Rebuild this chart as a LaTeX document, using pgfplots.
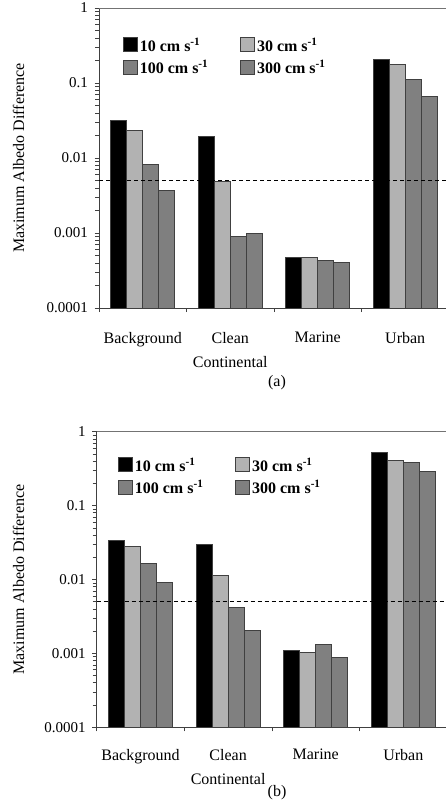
\documentclass[border=0pt]{standalone}
\usepackage{fontspec}
\setmainfont{Liberation Serif}
\usepackage{pgfplots}
\pgfplotsset{compat=1.18}
\definecolor{cA}{HTML}{000000}
\definecolor{cB}{HTML}{B2B2B2}
\definecolor{cC}{HTML}{808080}
\definecolor{cD}{HTML}{7F7F7F}
\definecolor{axc}{HTML}{404040}
\begin{document}
\begin{tikzpicture}
\useasboundingbox (0,0) rectangle (446pt,-812pt);
% ---------- panel (a)
\begin{axis}[
  at={(99pt,-308pt)}, anchor=south west,
  scale only axis, width=347pt, height=300pt,
  xmin=-0.5, xmax=3.466,
  ymode=log, ymin=1e-4, ymax=1, log origin=infty,
  axis x line*=bottom, axis y line*=left,
  axis line style={axc, line width=0.8pt},
  tick align=outside,
  xtick={0,1,2,3},
  xticklabels={Background, Clean\\Continental, Marine, Urban},
  major x tick style={draw=none},
  minor xtick={-0.5,0.5,1.5,2.5},
  minor x tick style={axc, line width=0.8pt},
  xticklabel style={align=center, font=\fontsize{16}{24}\selectfont, yshift=-16pt},
  ytick={1e-4,1e-3,1e-2,1e-1,1},
  yticklabels={0.0001,0.001,0.01,0.1,1},
  minor ytick={2e-4,3e-4,4e-4,5e-4,6e-4,7e-4,8e-4,9e-4,2e-3,3e-3,4e-3,5e-3,6e-3,7e-3,8e-3,9e-3,2e-2,3e-2,4e-2,5e-2,6e-2,7e-2,8e-2,9e-2,2e-1,3e-1,4e-1,5e-1,6e-1,7e-1,8e-1,9e-1},
  major tick length=4.5pt, minor tick length=4pt,
  major y tick style={axc, line width=0.7pt},
  minor y tick style={axc, line width=0.7pt},
  yticklabel style={font=\fontsize{15}{17}\selectfont, xshift=-3pt},
  ylabel={Maximum Albedo Difference},
  ylabel style={font=\fontsize{16}{18}\selectfont, at={(axis description cs:-0.232,0.5)}, anchor=center},
  legend columns=2,
  legend cell align=left,
  legend style={draw=none, fill=none, inner sep=0pt, row sep=3pt,
    font=\bfseries\fontsize{16}{18}\selectfont,
    at={(axis description cs:0.069,0.907)}, anchor=north west},
  /tikz/every even column/.append style={column sep=30pt},
]
\addplot[ybar, bar width=16pt, draw=axc, line width=0.7pt, fill=cA, bar shift=-24pt,
  legend image code/.code={\draw[draw=axc, fill=cA, line width=0.7pt] (0pt,-6pt) rectangle (14pt,8pt);}]
  coordinates {(0,0.032) (1,0.0196) (2,0.00047) (3,0.207)};
\addlegendentry{10 cm s\textsuperscript{-1}}
\addplot[ybar, bar width=16pt, draw=axc, line width=0.7pt, fill=cB, bar shift=-8pt,
  legend image code/.code={\draw[draw=axc, fill=cB, line width=0.7pt] (0pt,-6pt) rectangle (14pt,8pt);}]
  coordinates {(0,0.0234) (1,0.00483) (2,0.00047) (3,0.177)};
\addlegendentry{30 cm s\textsuperscript{-1}}
\addplot[ybar, bar width=16pt, draw=axc, line width=0.7pt, fill=cC, bar shift=8pt,
  legend image code/.code={\draw[draw=axc, fill=cC, line width=0.7pt] (0pt,-6pt) rectangle (14pt,8pt);}]
  coordinates {(0,0.0083) (1,0.0009) (2,0.000432) (3,0.111)};
\addlegendentry{100 cm s\textsuperscript{-1}}
\addplot[ybar, bar width=16pt, draw=axc, line width=0.7pt, fill=cD, bar shift=24pt,
  legend image code/.code={\draw[draw=axc, fill=cD, line width=0.7pt] (0pt,-6pt) rectangle (14pt,8pt);}]
  coordinates {(0,0.00366) (1,0.00099) (2,0.000407) (3,0.0664)};
\addlegendentry{300 cm s\textsuperscript{-1}}
\addplot[black, line width=0.8pt, dash pattern=on 4pt off 3pt, forget plot] coordinates {(-0.5,0.005) (3.6,0.005)};
\draw[black!55, line width=0.8pt] (rel axis cs:0,1) -- (rel axis cs:1,1);
\end{axis}
\node[font=\fontsize{16}{18}\selectfont] at (277pt,-383pt) {(a)};
% ---------- panel (b)
\begin{axis}[
  at={(96.7pt,-727.3pt)}, anchor=south west,
  scale only axis, width=349.3pt, height=295.6pt,
  xmin=-0.5, xmax=3.487,
  ymode=log, ymin=1e-4, ymax=1, log origin=infty,
  axis x line*=bottom, axis y line*=left,
  axis line style={axc, line width=0.8pt},
  tick align=outside,
  xtick={0,1,2,3},
  xticklabels={Background, Clean\\Continental, Marine, Urban},
  major x tick style={draw=none},
  minor xtick={-0.5,0.5,1.5,2.5},
  minor x tick style={axc, line width=0.8pt},
  xticklabel style={align=center, font=\fontsize{16}{24}\selectfont, yshift=-14pt},
  ytick={1e-4,1e-3,1e-2,1e-1,1},
  yticklabels={0.0001,0.001,0.01,0.1,1},
  minor ytick={2e-4,3e-4,4e-4,5e-4,6e-4,7e-4,8e-4,9e-4,2e-3,3e-3,4e-3,5e-3,6e-3,7e-3,8e-3,9e-3,2e-2,3e-2,4e-2,5e-2,6e-2,7e-2,8e-2,9e-2,2e-1,3e-1,4e-1,5e-1,6e-1,7e-1,8e-1,9e-1},
  major tick length=4.5pt, minor tick length=4pt,
  major y tick style={axc, line width=0.7pt},
  minor y tick style={axc, line width=0.7pt},
  yticklabel style={font=\fontsize{15}{17}\selectfont, xshift=-3pt},
  ylabel={Maximum Albedo Difference},
  ylabel style={font=\fontsize{16}{18}\selectfont, at={(axis description cs:-0.224,0.5)}, anchor=center},
  legend columns=2,
  legend cell align=left,
  legend style={draw=none, fill=none, inner sep=0pt, row sep=3pt,
    font=\bfseries\fontsize{16}{18}\selectfont,
    at={(axis description cs:0.061,0.918)}, anchor=north west},
  /tikz/every even column/.append style={column sep=30pt},
]
\addplot[ybar, bar width=16pt, draw=axc, line width=0.7pt, fill=cA, bar shift=-24pt,
  legend image code/.code={\draw[draw=axc, fill=cA, line width=0.7pt] (0pt,-6pt) rectangle (14pt,8pt);}]
  coordinates {(0,0.0335) (1,0.0296) (2,0.00109) (3,0.525)};
\addlegendentry{10 cm s\textsuperscript{-1}}
\addplot[ybar, bar width=16pt, draw=axc, line width=0.7pt, fill=cB, bar shift=-8pt,
  legend image code/.code={\draw[draw=axc, fill=cB, line width=0.7pt] (0pt,-6pt) rectangle (14pt,8pt);}]
  coordinates {(0,0.0284) (1,0.0115) (2,0.00102) (3,0.409)};
\addlegendentry{30 cm s\textsuperscript{-1}}
\addplot[ybar, bar width=16pt, draw=axc, line width=0.7pt, fill=cC, bar shift=8pt,
  legend image code/.code={\draw[draw=axc, fill=cC, line width=0.7pt] (0pt,-6pt) rectangle (14pt,8pt);}]
  coordinates {(0,0.0164) (1,0.00416) (2,0.00133) (3,0.389)};
\addlegendentry{100 cm s\textsuperscript{-1}}
\addplot[ybar, bar width=16pt, draw=axc, line width=0.7pt, fill=cD, bar shift=24pt,
  legend image code/.code={\draw[draw=axc, fill=cD, line width=0.7pt] (0pt,-6pt) rectangle (14pt,8pt);}]
  coordinates {(0,0.00925) (1,0.00205) (2,0.000885) (3,0.294)};
\addlegendentry{300 cm s\textsuperscript{-1}}
\addplot[black, line width=0.8pt, dash pattern=on 4pt off 3pt, forget plot] coordinates {(-0.5,0.005) (3.6,0.005)};
\draw[black!55, line width=0.8pt] (rel axis cs:0,1) -- (rel axis cs:1,1);
\end{axis}
\node[font=\fontsize{16}{18}\selectfont] at (277pt,-793pt) {(b)};
\end{tikzpicture}
\end{document}
